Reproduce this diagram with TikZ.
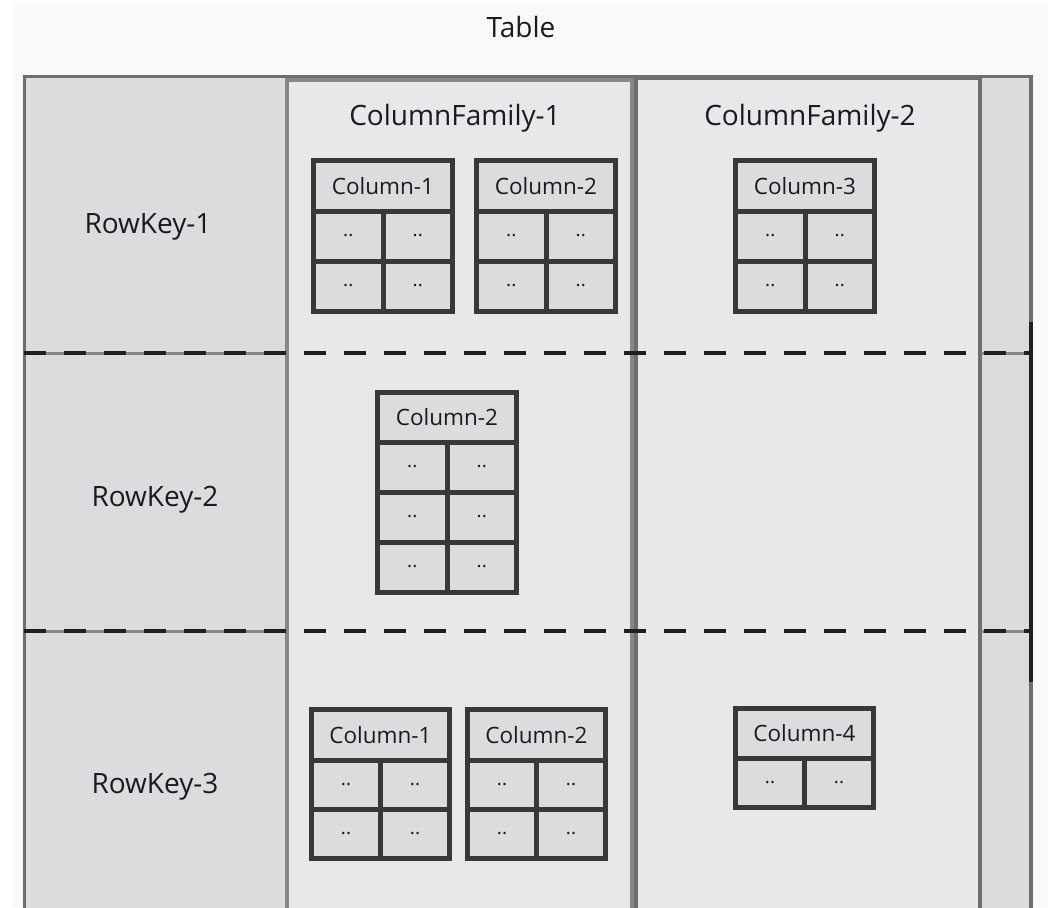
\documentclass[tikz,border=0pt]{standalone}
\usepackage{fontspec}
\setmainfont{Open Sans}
\definecolor{bgc}{HTML}{F9F9F9}
\definecolor{keyfill}{HTML}{DCDCDE}
\definecolor{cffill}{HTML}{E8E8EA}
\definecolor{framec}{HTML}{6E6E6E}
\definecolor{linec}{HTML}{878787}
\definecolor{boxc}{HTML}{383838}
\definecolor{txt}{HTML}{1A1A22}
\newcommand\cbox[8]{% name, x1, y1, x2, yh, rowh, nrows, label
  \pgfmathsetmacro\cbxm{(#2+#4)/2}
  \node[hdr, minimum width={(#4-#2)*1pt}, minimum height={(#5-#3)*1pt}] (#1) at ({(#2+#4)/2},{(#3+#5)/2}) {#8};
  \foreach \i in {1,...,#7}{
    \node[cellb, minimum width={(\cbxm-#2)*1pt}, minimum height={#6*1pt}] (#1-\i-l) at ({(#2+\cbxm)/2},{#5+(\i-0.5)*#6}) {..};
    \node[cellb, minimum width={(#4-\cbxm)*1pt}, minimum height={#6*1pt}] (#1-\i-r) at ({(\cbxm+#4)/2},{#5+(\i-0.5)*#6}) {..};
  }
}
\begin{document}
\begin{tikzpicture}[x=1pt,y=-1pt,
  hdr/.style={draw=boxc, fill=keyfill, line width=5pt, inner sep=0pt, outer sep=0pt, text=txt, font=\fontsize{22.5}{26}\selectfont},
  cellb/.style={draw=boxc, fill=keyfill, line width=5pt, inner sep=0pt, outer sep=0pt, text=txt, font=\fontsize{19}{22}\selectfont},
  bigtxt/.style={text=txt, font=\fontsize{28}{32}\selectfont, inner sep=0pt},
  sep/.style={draw=black!88, line width=4.5pt, dash pattern=on 22pt off 18pt}]
\useasboundingbox (0,0) rectangle (1048,907);
\fill[white] (0,0) rectangle (1048,907);
\fill[bgc] (13,3) rectangle (1048,907);
% outer frame
\path[fill=keyfill, draw=framec, line width=3.5pt] (24.5,76.5) rectangle (1031,915);
% column families
\path[fill=cffill, draw=linec, line width=3.5pt] (287,80) rectangle (632,915);
\path[fill=cffill, draw=framec, line width=4pt] (635.5,78) rectangle (979.5,915);
% row borders in key column and right strip
\draw[linec, line width=3pt] (26,353) -- (285,353) (981,353) -- (1029,353);
\draw[linec, line width=3pt] (26,631) -- (285,631) (981,631) -- (1029,631);
\draw[black!88, line width=4.5pt] (1031,322) -- (1031,682);
% title and labels
\node[bigtxt] (title) at (521,27) {Table};
\node[bigtxt] (rk1) at (148,227) {RowKey-1};
\node[bigtxt] (rk2) at (155,500) {RowKey-2};
\node[bigtxt] (rk3) at (155,787) {RowKey-3};
\node[bigtxt] (cf1) at (455,118) {ColumnFamily-1};
\node[bigtxt] (cf2) at (810,118) {ColumnFamily-2};
% dashed row separators
\draw[sep] (24,353) -- (1031,353);
\draw[sep] (24,631) -- (1031,631);
% column boxes
\cbox{a}{313.5}{160.5}{452.5}{211}{50}{2}{Column-1}
\cbox{b}{476.5}{160.5}{615.5}{211}{50}{2}{Column-2}
\cbox{c}{735.5}{160.5}{874.5}{211}{50}{2}{Column-3}
\cbox{d}{377.5}{392.5}{516.5}{442}{50}{3}{Column-2}
\cbox{e}{311.5}{709.5}{449.5}{760}{49}{2}{Column-1}
\cbox{f}{467.5}{709.5}{605.5}{760}{49}{2}{Column-2}
\cbox{g}{735.5}{708.5}{873.5}{758}{49}{1}{Column-4}
\end{tikzpicture}
\end{document}
